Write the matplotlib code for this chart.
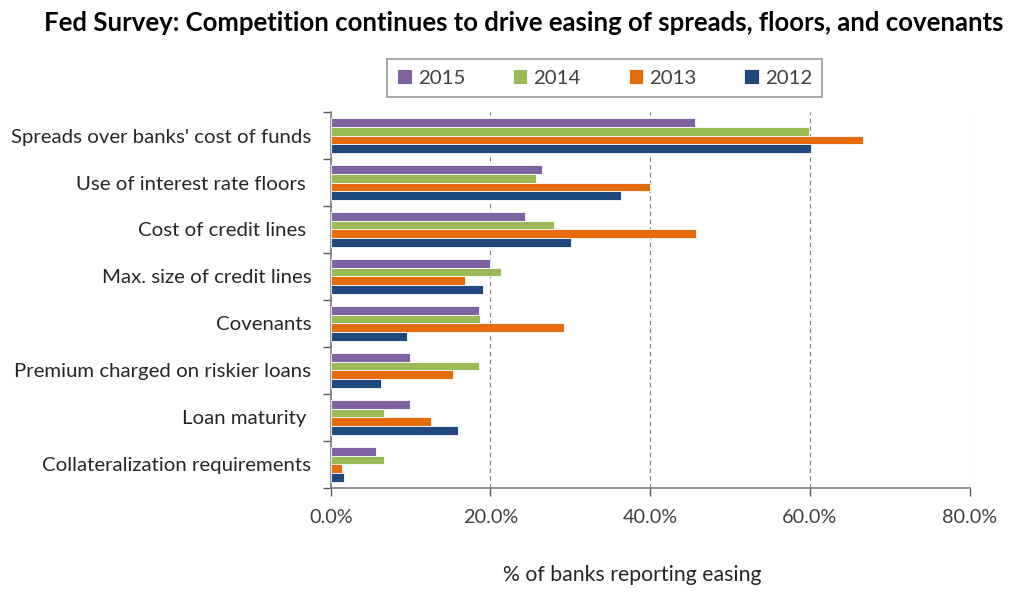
import numpy as np
import matplotlib.pyplot as plt
from matplotlib.ticker import FuncFormatter, FixedLocator

plt.rcParams['font.family'] = ['Lato', 'DejaVu Sans']

# Data (% of banks reporting easing)
categories = ["Spreads over banks' cost of funds", "Use of interest rate floors ",
              "Cost of credit lines ", "Max. size of credit lines", "Covenants",
              "Premium charged on riskier loans", "Loan maturity ",
              "Collateralization requirements"]
years = ['2015', '2014', '2013', '2012']
vals_2015 = [45.6, 26.4, 24.3, 20.0, 18.6, 9.9, 9.9, 5.7]
vals_2014 = [59.9, 25.7, 28.0, 21.3, 18.7, 18.6, 6.7, 6.7]
vals_2013 = [66.6, 40.0, 45.7, 16.8, 29.2, 15.3, 12.5, 1.4]
vals_2012 = [60.1, 36.4, 30.1, 19.0, 9.5, 6.3, 15.9, 1.6]
colors = ['#8064A2', '#9BBB59', '#E46C0A', '#1F497D']

series = [vals_2015, vals_2014, vals_2013, vals_2012]

fig = plt.figure(figsize=(10.24, 6.09), dpi=100)
ax = fig.add_axes([0.323, 0.199, 0.624, 0.617])

y = np.arange(len(categories))
bh = 0.185
for k, (vals, c, yr) in enumerate(zip(series, colors, years)):
    ax.barh(y - 1.5 * bh + k * bh, vals, height=bh, color=c, label=yr,
            edgecolor='white', linewidth=0.6, zorder=3)

ax.set_xlim(0, 80)
ax.set_ylim(len(categories) - 0.5, -0.5)
ax.set_xticks([0, 20, 40, 60, 80])
ax.xaxis.set_major_formatter(FuncFormatter(lambda v, p: f'{v:.1f}%'))
ax.grid(axis='x', linestyle=(0, (4, 3)), color='#7f7f7f', linewidth=0.8, zorder=0)

# category labels between the boundary ticks
ax.yaxis.set_major_locator(FixedLocator(np.arange(-0.5, len(categories), 1)))
ax.yaxis.set_major_formatter(FuncFormatter(lambda v, p: ''))
ax.set_yticks(y, minor=True)
ax.set_yticklabels(categories, minor=True)
ax.tick_params(axis='y', which='minor', length=0, pad=14, labelsize=14.7, labelcolor='#262626')
ax.tick_params(axis='y', which='major', length=6, color='#595959', width=1)
ax.tick_params(axis='x', length=6, color='#595959', width=1, pad=9, labelsize=14.3, labelcolor='#404040')

for s in ['top', 'right']:
    ax.spines[s].set_visible(False)
for s in ['left', 'bottom']:
    ax.spines[s].set_color('#7f7f7f')
    ax.spines[s].set_linewidth(1.2)

ax.set_xlabel('% of banks reporting easing', fontsize=15.3, color='#262626')
ax.xaxis.set_label_coords(0.472, -0.205)

fig.text(0.511, 0.962, 'Fed Survey: Competition continues to drive easing of spreads, floors, and covenants',
         ha='center', va='center', fontsize=18.5, fontweight='bold', color='black')

leg = fig.legend(loc='lower left', bbox_to_anchor=(0.378, 0.841, 0.425, 0.072), ncol=4,
                 mode='expand', fontsize=14.7, frameon=True, fancybox=False,
                 handlelength=0.7, handleheight=0.7, handletextpad=0.3, borderaxespad=0,
                 borderpad=0.5)
leg.get_frame().set_edgecolor('#7f7f7f')
leg.get_frame().set_linewidth(1.2)
for t in leg.get_texts():
    t.set_color('#404040')

fig.savefig('out.png', dpi=100)
